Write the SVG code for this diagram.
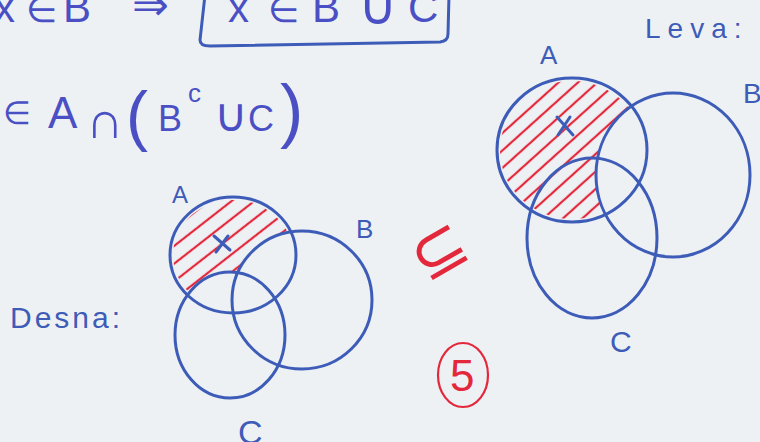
<svg xmlns="http://www.w3.org/2000/svg" width="760" height="442" viewBox="0 0 760 442">
<style>
.ink{fill:none;stroke:#3d5cb8;stroke-width:3;stroke-linecap:round}
.t{font-family:"Liberation Sans",Arial,sans-serif;fill:#4a50c4}
.b{font-family:"Liberation Sans",Arial,sans-serif;fill:#3d5cb8}
.red{fill:none;stroke:#e4283c;stroke-width:2.2;stroke-linecap:round}
.rt{font-family:"Liberation Sans",Arial,sans-serif;fill:#e4283c}
</style>
<defs>
<pattern id="hl" width="14" height="14" patternUnits="userSpaceOnUse" patternTransform="rotate(-38)">
<line x1="0" y1="7" x2="14" y2="7" stroke="#e4283c" stroke-width="2.2"/>
</pattern>
<pattern id="hr" width="13" height="13" patternUnits="userSpaceOnUse" patternTransform="rotate(-42)">
<line x1="0" y1="6" x2="13" y2="6" stroke="#e4283c" stroke-width="2.2"/>
</pattern>
<mask id="ml">
<ellipse cx="233" cy="255" rx="60" ry="55" fill="#fff"/>
<ellipse cx="302" cy="300" rx="70" ry="69" fill="#000"/>
<ellipse cx="230" cy="335" rx="55" ry="63" fill="#000"/>
</mask>
<mask id="mr">
<ellipse cx="572" cy="150" rx="72" ry="69" fill="#fff"/>
<ellipse cx="673" cy="175" rx="77" ry="82" fill="#000"/>
</mask>
</defs>
<rect width="760" height="442" fill="#eef1f4"/>

<g id="formula-top">
<text class="t" x="-6" y="22" font-size="42">x</text>
<text class="t" x="26" y="22" font-size="36">∈</text>
<text class="t" x="63" y="22" font-size="42">B</text>
<text class="t" x="132" y="20" font-size="44">⇒</text>
<path class="ink" d="M205,-5 L200,40 Q200,46 210,46 L440,42 Q448,41 448,34 L449,-5" stroke="#4a50c4"/>
<text class="t" x="228" y="22" font-size="42">x</text>
<text class="t" x="268" y="22" font-size="36">∈</text>
<text class="t" x="312" y="22" font-size="42">B</text>
<text class="t" x="358" y="24" font-size="54">∪</text>
<text class="t" x="408" y="22" font-size="42">C</text>
</g>

<g id="formula-second">
<text class="t" x="3" y="124" font-size="32">∈</text>
<text class="t" x="48" y="128" font-size="44">A</text>
<text class="t" x="86" y="138" font-size="52">∩</text>
<text class="t" x="126" y="138" font-size="66">(</text>
<text class="t" x="158" y="131" font-size="36">B</text>
<text class="t" x="188" y="102" font-size="26">c</text>
<text class="t" x="214" y="131" font-size="46">∪</text>
<text class="t" x="248" y="131" font-size="36">C</text>
<text class="t" x="280" y="134" font-size="70">)</text>
</g>

<g id="desna">
<text class="b" x="10" y="328" font-size="30" letter-spacing="3">Desna:</text>
<rect x="170" y="195" width="130" height="125" fill="url(#hl)" mask="url(#ml)"/>
<ellipse class="ink" cx="233" cy="255" rx="63" ry="58"/>
<ellipse class="ink" cx="302" cy="300" rx="70" ry="69"/>
<ellipse class="ink" cx="230" cy="335" rx="55" ry="63"/>
<path class="ink" d="M214,236 L230,250 M228,236 L216,252" stroke-width="2.5"/>
<text class="b" x="172" y="203" font-size="24">A</text>
<text class="b" x="356" y="238" font-size="26">B</text>
<text class="b" x="238" y="444" font-size="34">C</text>
</g>

<g id="subset">
<text class="rt" x="0" y="0" font-size="66" transform="translate(426,284) rotate(-30)">⊆</text>
<ellipse class="red" cx="463" cy="375" rx="25" ry="32"/>
<text class="rt" x="450" y="391" font-size="44">5</text>
</g>

<g id="leva">
<text class="b" x="645" y="38" font-size="28" letter-spacing="7">Leva:</text>
<rect x="495" y="75" width="155" height="150" fill="url(#hr)" mask="url(#mr)"/>
<ellipse class="ink" cx="572" cy="150" rx="75" ry="72"/>
<ellipse class="ink" cx="673" cy="175" rx="77" ry="82"/>
<ellipse class="ink" cx="592" cy="238" rx="65" ry="80"/>
<path class="ink" d="M557,117 L573,135 M570,117 L558,135" stroke-width="2.5"/>
<text class="b" x="540" y="64" font-size="26">A</text>
<text class="b" x="743" y="103" font-size="28">B</text>
<text class="b" x="610" y="352" font-size="30">C</text>
</g>
</svg>
